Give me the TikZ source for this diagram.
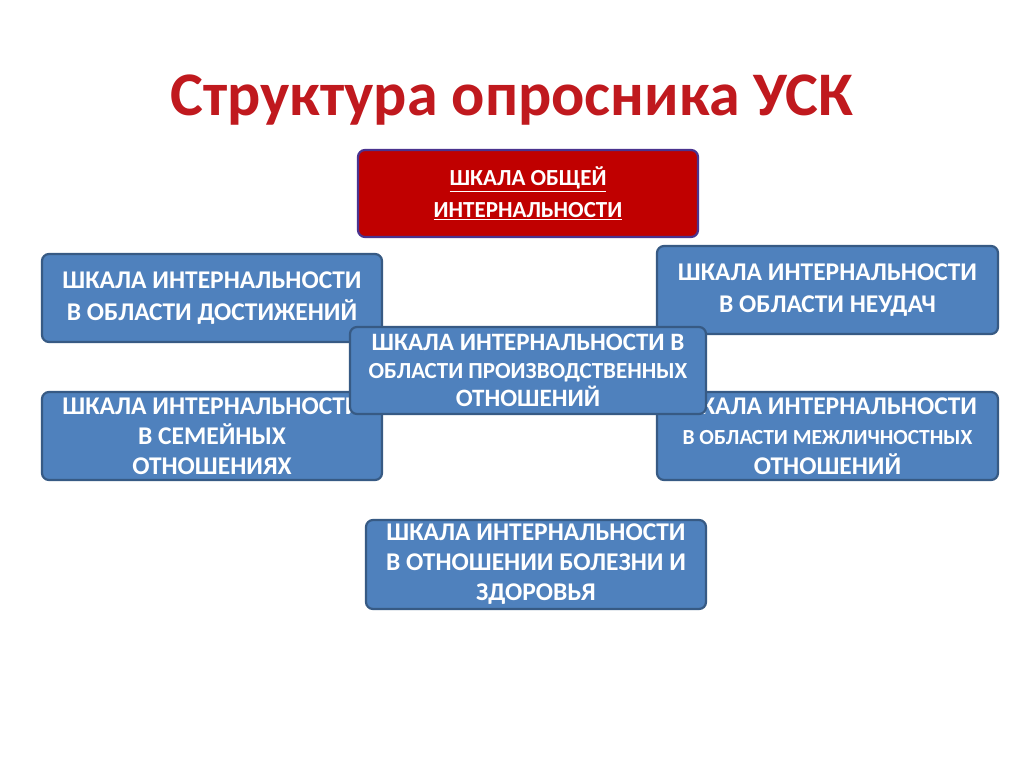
\documentclass[tikz,border=0pt]{standalone}
\usepackage{fontspec}
\setmainfont{Carlito}
\begin{document}
\begin{tikzpicture}[x=1pt,y=-1pt,
  box/.style={draw=black!20!blue!40!gray,line width=2.2pt,rounded corners=7pt,fill=bl,text=white,font=\fontsize{25.5}{30}\selectfont\bfseries,align=center,inner sep=0pt},
  ]
\definecolor{bl}{HTML}{4F81BD}
\definecolor{rd}{HTML}{C00000}
\definecolor{tt}{HTML}{C0191E}
\tikzset{box/.append style={draw=bl!70!black}}
\useasboundingbox[fill=white] (0,0) rectangle (1024,767);
\node[text=tt,font=\fontsize{62}{70}\selectfont\bfseries] (title) at (512,100) {Структура опросника УСК};
\node[box,fill=rd,draw=black!50!rd!40!blue!60!gray,minimum width=340pt,minimum height=87pt,font=\fontsize{23}{32}\selectfont\bfseries] (g) at (528,193.5) {\underline{ШКАЛА ОБЩЕЙ}\\\underline{ИНТЕРНАЛЬНОСТИ}};
\node[box,minimum width=340pt,minimum height=88pt,font=\fontsize{25.5}{32}\selectfont\bfseries] (l1) at (212,298) {ШКАЛА ИНТЕРНАЛЬНОСТИ\\В ОБЛАСТИ ДОСТИЖЕНИЙ};
\node[box,minimum width=341pt,minimum height=88pt,font=\fontsize{25.5}{32}\selectfont\bfseries] (r1) at (827.5,290) {ШКАЛА ИНТЕРНАЛЬНОСТИ\\В ОБЛАСТИ НЕУДАЧ};
\node[box,minimum width=340pt,minimum height=88pt] (l2) at (212,436) {ШКАЛА ИНТЕРНАЛЬНОСТИ\\В СЕМЕЙНЫХ\\ОТНОШЕНИЯХ};
\node[box,minimum width=341pt,minimum height=88pt] (r2) at (827.5,436) {ШКАЛА ИНТЕРНАЛЬНОСТИ\\{\fontsize{21.5}{28}\selectfont В ОБЛАСТИ МЕЖЛИЧНОСТНЫХ}\\ОТНОШЕНИЙ};
\node[box,minimum width=356pt,minimum height=87pt,font=\fontsize{25}{28}\selectfont\bfseries] (c) at (528,370.5) {ШКАЛА ИНТЕРНАЛЬНОСТИ В\\{\fontsize{23}{28}\selectfont ОБЛАСТИ ПРОИЗВОДСТВЕННЫХ}\\ОТНОШЕНИЙ};
\node[box,minimum width=340pt,minimum height=89pt] (b) at (536,564.5) {ШКАЛА ИНТЕРНАЛЬНОСТИ\\В ОТНОШЕНИИ БОЛЕЗНИ И\\ЗДОРОВЬЯ};
\end{tikzpicture}
\end{document}
